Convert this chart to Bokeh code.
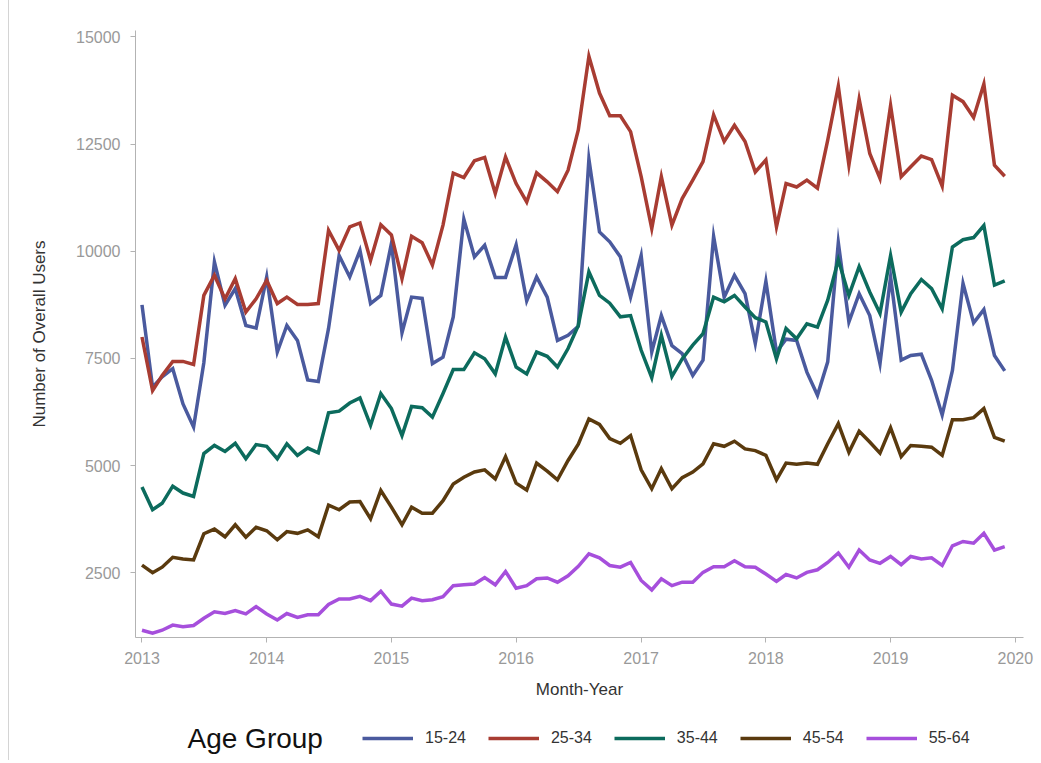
import pandas as pd
from bokeh.plotting import figure
from bokeh.layouts import column
from bokeh.models import (Range1d, FixedTicker, DatetimeTickFormatter, Legend,
                          LegendItem, Label)
from bokeh.embed import file_html
from bokeh.resources import INLINE

# ---------------- data ----------------
months = pd.date_range("2013-01-01", "2019-12-01", freq="MS")

age_groups = ["15-24", "25-34", "35-44", "45-54", "55-64"]
legend_title = "Age Group"

users_15_24 = [8750, 6830, 7070, 7260, 6440, 5900, 7400, 9750, 8740, 9130, 8270, 8210,
               9400, 7650, 8270, 7920, 7000, 6960, 8200, 9900, 9400, 10020, 8780, 8970,
               10180, 8100, 8930, 8900, 7380, 7530, 8470, 10750, 9870, 10140, 9390, 9390,
               10150, 8840, 9400, 8930, 7920, 8040, 8250, 12150, 10450, 10220, 9870, 8930,
               9900, 7650, 8500, 7800, 7610, 7100, 7460, 10350, 8930, 9440, 9010, 7850,
               9300, 7650, 7950, 7920, 7180, 6640, 7420, 10200, 8350, 9010, 8500, 7380,
               9400, 7460, 7570, 7600, 6990, 6180, 7220, 9250, 8330, 8640, 7570, 7210]

users_25_34 = [8000, 6750, 7100, 7430, 7430, 7360, 8970, 9440, 8890, 9360, 8580, 8890,
               9320, 8780, 8930, 8760, 8760, 8780, 10490, 10020, 10570, 10660, 9790, 10620,
               10380, 9360, 10350, 10200, 9680, 10610, 11820, 11720, 12110, 12190, 11350, 12200,
               11580, 11150, 11830, 11620, 11390, 11890, 12830, 14550, 13690, 13160, 13160, 12790,
               11740, 10530, 11740, 10610, 11230, 11660, 12090, 13180, 12560, 12940, 12560, 11850,
               12130, 10570, 11580, 11500, 11660, 11470, 12590, 13850, 12010, 13550, 12280, 11700,
               13400, 11740, 11970, 12220, 12140, 11520, 13640, 13490, 13120, 13900, 12010, 11750]

users_35_44 = [4500, 3970, 4120, 4520, 4360, 4280, 5280, 5470, 5330, 5520, 5160, 5490,
               5450, 5160, 5510, 5240, 5410, 5300, 6230, 6270, 6460, 6580, 5940, 6680,
               6330, 5700, 6380, 6350, 6130, 6680, 7240, 7240, 7630, 7490, 7140, 8000,
               7300, 7140, 7650, 7550, 7300, 7730, 8270, 9520, 8970, 8790, 8470, 8500,
               7690, 7050, 8040, 7080, 7490, 7810, 8080, 8930, 8820, 8970, 8700, 8450,
               8350, 7490, 8200, 7960, 8310, 8230, 8860, 9800, 8970, 9640, 9050, 8550,
               9900, 8580, 9010, 9340, 9130, 8660, 10100, 10270, 10320, 10600, 9210, 9310]

users_45_54 = [2680, 2500, 2630, 2860, 2820, 2800, 3410, 3520, 3340, 3620, 3330, 3560,
               3480, 3270, 3460, 3420, 3500, 3340, 4080, 3970, 4150, 4160, 3760, 4420,
               4030, 3620, 4030, 3890, 3890, 4180, 4570, 4730, 4850, 4900, 4690, 5210,
               4590, 4430, 5060, 4870, 4670, 5120, 5500, 6090, 5960, 5630, 5520, 5700,
               4900, 4460, 4930, 4460, 4720, 4850, 5040, 5510, 5450, 5570, 5390, 5350,
               5240, 4670, 5060, 5030, 5060, 5030, 5510, 5980, 5310, 5800, 5550, 5290,
               5880, 5210, 5470, 5450, 5430, 5240, 6070, 6070, 6120, 6330, 5660, 5570]

users_55_64 = [1160, 1090, 1160, 1280, 1240, 1270, 1440, 1590, 1550, 1620, 1540, 1710,
               1540, 1400, 1550, 1460, 1520, 1520, 1760, 1890, 1890, 1950, 1850, 2070,
               1770, 1720, 1910, 1850, 1870, 1940, 2200, 2220, 2240, 2390, 2220, 2530,
               2140, 2200, 2360, 2380, 2280, 2430, 2650, 2940, 2850, 2670, 2630, 2740,
               2320, 2100, 2360, 2200, 2280, 2280, 2510, 2640, 2640, 2780, 2640, 2630,
               2470, 2300, 2460, 2380, 2510, 2570, 2740, 2960, 2630, 3030, 2800, 2720,
               2880, 2690, 2880, 2820, 2850, 2670, 3130, 3230, 3190, 3420, 3030, 3110]

year_ticks = [2013, 2014, 2015, 2016, 2017, 2018, 2019, 2020]
y_ticks = [2500, 5000, 7500, 10000, 12500, 15000]

series = [users_15_24, users_25_34, users_35_44, users_45_54, users_55_64]
colors = ["#4a5a9e", "#a83c32", "#0c6b5d", "#5a3a0e", "#a64fdc"]

FONT = "Liberation Sans"
LW = 3.5

# ---------------- main chart ----------------
p = figure(width=1026, height=707, x_axis_type="datetime",
           x_range=Range1d(pd.Timestamp("2012-12-13"), pd.Timestamp("2020-01-25")),
           y_range=Range1d(990, 15150),
           output_backend="svg", toolbar_location=None,
           min_border_left=126, min_border_right=12, min_border_top=30,
           min_border_bottom=70)

p.xgrid.visible = False
p.ygrid.visible = False
p.outline_line_color = None

for vals, col in zip(series, colors):
    p.line(months, vals, line_color=col, line_width=LW, line_join="miter")

tick_ms = [pd.Timestamp(f"{y}-01-01").value // 10**6 for y in year_ticks]
p.xaxis.ticker = FixedTicker(ticks=tick_ms)
p.xaxis.formatter = DatetimeTickFormatter(
    years="%Y", months="%Y", days="%Y", hours="%Y", minutes="%Y",
    seconds="%Y", milliseconds="%Y", microseconds="%Y")
p.yaxis.ticker = FixedTicker(ticks=y_ticks)

for ax in (p.xaxis[0], p.yaxis[0]):
    ax.axis_line_color = "#b3b3b3"
    ax.major_tick_line_color = "#b3b3b3"
    ax.major_tick_out = 5
    ax.major_tick_in = 0
    ax.minor_tick_line_color = None
    ax.major_label_text_font = FONT
    ax.major_label_text_font_size = "16px"
    ax.major_label_text_color = "#999999"
    ax.axis_label_text_font = FONT
    ax.axis_label_text_font_size = "17px"
    ax.axis_label_text_font_style = "normal"
    ax.axis_label_text_color = "#333333"

p.xaxis.axis_label = "Month-Year"
p.xaxis.major_label_standoff = 9
p.xaxis.axis_label_standoff = 13
p.yaxis.axis_label = "Number of Overall Users"
p.yaxis.major_label_standoff = 10
p.yaxis.axis_label_standoff = 24

# ---------------- legend strip (frame aligned with the chart above) ----------------
lf = figure(width=1026, height=53, x_range=Range1d(0, 1), y_range=Range1d(0, 1),
            x_axis_location=None, y_axis_location=None,
            output_backend="svg", toolbar_location=None, min_border=0)
lf.xgrid.visible = False
lf.ygrid.visible = False
lf.outline_line_color = None

# same series, out of this strip's view; they only carry the legend glyphs
legend_renderers = [lf.line(months, vals, line_color=c, line_width=LW)
                    for vals, c in zip(series, colors)]

legend = Legend(items=[LegendItem(label=g, renderers=[r])
                       for g, r in zip(age_groups, legend_renderers)],
                orientation="horizontal", location=(227, 12),
                glyph_width=51, glyph_height=20, label_standoff=12, spacing=22,
                label_text_font=FONT, label_text_font_size="16px",
                label_text_color="#333333", border_line_color=None,
                background_fill_alpha=0, padding=0, margin=0)
lf.add_layout(legend, "center")

title_lbl = Label(x=52, y=22, x_units="screen", y_units="screen",
                  text=legend_title, text_font=FONT, text_font_size="28px",
                  text_color="#111111", text_baseline="middle", text_align="left")
lf.add_layout(title_lbl)

layout = column(p, lf, spacing=0,
                styles={"margin-left": "8px", "border-left": "1px solid #d4d4d4"})

open("out.html", "w").write(file_html(layout, INLINE))
